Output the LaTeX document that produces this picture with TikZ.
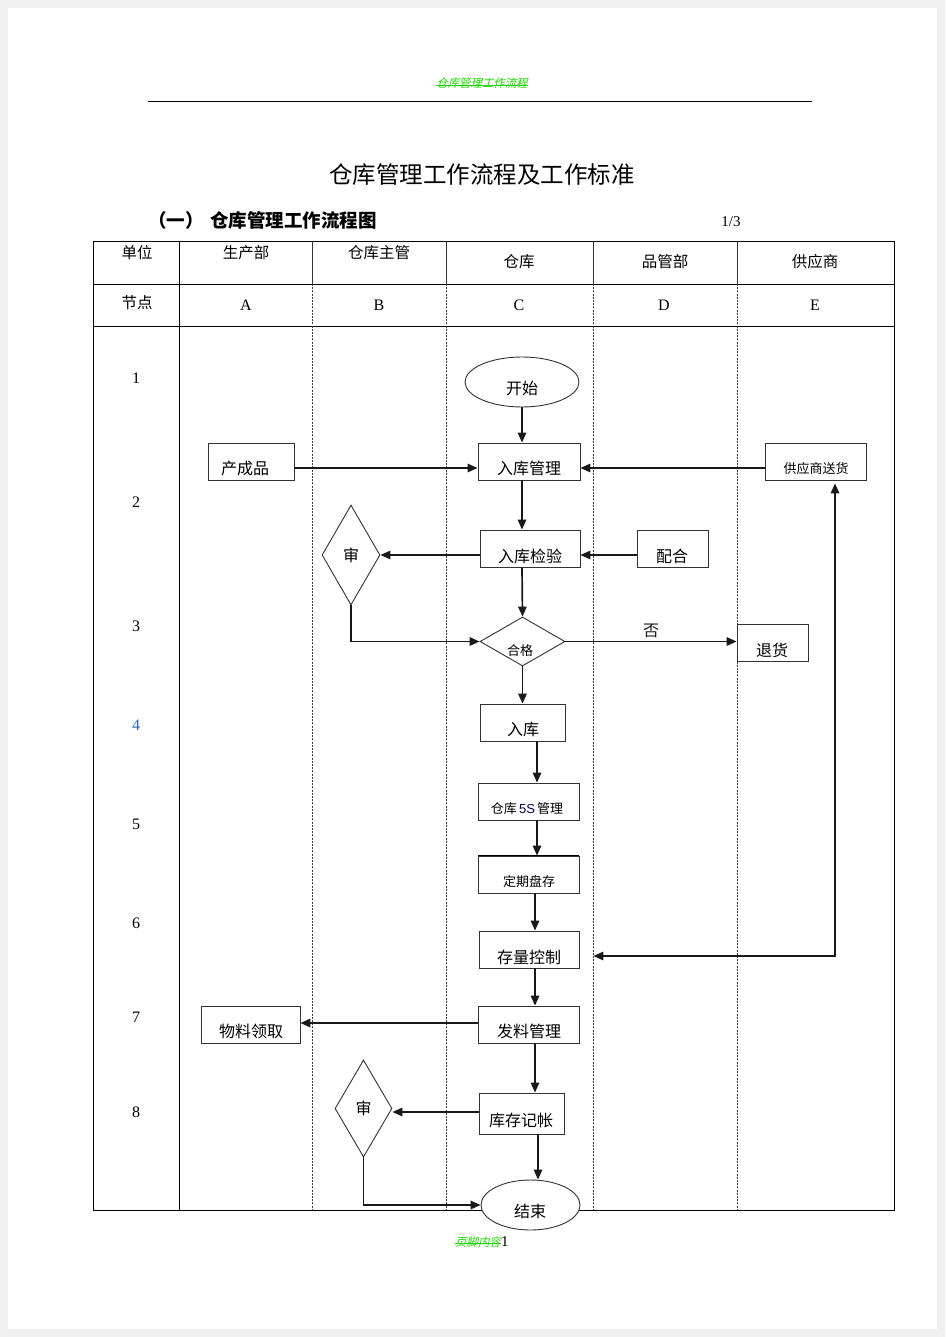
\documentclass[tikz,border=0pt]{standalone}
\usepackage{fontspec}
\setmainfont{Liberation Serif}
\newfontfamily\cjk{Noto Sans CJK SC}
\newfontfamily\cjkit[FakeSlant=0.25]{Noto Sans CJK SC}
\usetikzlibrary{arrows.meta,shapes.geometric}
\definecolor{hdrgreen}{RGB}{30,215,0}
\definecolor{numblue}{RGB}{40,100,200}
\tikzset{
  tbl/.style={draw=black, line width=0.9pt},
  lane/.style={draw=black!75, line width=0.7pt, dash pattern=on 2pt off 1.2pt},
  box/.style={draw=black!80, line width=0.9pt, fill=white, rectangle, inner sep=0pt},
  dia/.style={draw=black!80, line width=0.9pt, fill=white, diamond, inner sep=0pt, font=\cjk\fontsize{16}{18}\selectfont},
  ell/.style={draw=black!80, line width=0.9pt, fill=white, ellipse, inner sep=0pt, font=\cjk\fontsize{16}{18}\selectfont},
  lbl/.style={font=\cjk\fontsize{16}{18}\selectfont, inner sep=0pt},
  slbl/.style={font=\cjk\fontsize{13}{15}\selectfont, inner sep=0pt},
  hdr/.style={font=\cjk\fontsize{15.5}{17}\selectfont, inner sep=0pt},
  letter/.style={font=\fontsize{16}{18}\selectfont, inner sep=0pt},
  arr/.style={-{Triangle[length=10pt,width=8.5pt]}, line width=1.7pt, black!90},
  arrb/.style={{Triangle[length=10pt,width=8.5pt]}-{Triangle[length=10pt,width=8.5pt]}, line width=1.7pt, black!90},
}
\begin{document}
\begin{tikzpicture}[x=1pt,y=-1pt]
\useasboundingbox (0,0) rectangle (945,1337);
\fill[black!6] (0,0) rectangle (945,1337);
\fill[white] (8,8) rectangle (937,1329);

% page header
\node[font=\cjkit\fontsize{11.4}{13}\selectfont, text=hdrgreen, inner sep=0pt] (phdr) at (482,83) {仓库管理工作流程};
\draw[hdrgreen, line width=0.9pt] (phdr.west |- 0,85) -- (phdr.east |- 0,85);
\draw[black, line width=0.9pt] (148,101) -- (812,101);

% titles
\node[font=\cjk\fontsize{23.5}{26}\selectfont, inner sep=0pt] (title) at (482,175) {仓库管理工作流程及工作标准};
\node[font=\cjk\bfseries\fontsize{18.5}{21}\selectfont, inner sep=0pt] (subn) at (176,220) {（一）};
\node[font=\cjk\bfseries\fontsize{18.5}{21}\selectfont, inner sep=0pt, anchor=west] (sub) at (210,220) {仓库管理工作流程图};
\node[font=\fontsize{15}{17}\selectfont, inner sep=0pt] (page) at (731,222) {1/3};

% table
\draw[tbl] (93,241) rectangle (894,1210);
\draw[tbl] (93,284) -- (894,284);
\draw[tbl] (93,326) -- (894,326);
\draw[tbl] (179,241) -- (179,1210);
\foreach \x in {312,446,593,737} {
  \draw[draw=black!80, line width=0.8pt] (\x,241) -- (\x,284);
  \draw[lane] (\x,284) -- (\x,1210);
}

% column headers
\node[hdr] (h0) at (137,253) {单位};
\node[hdr] (h1) at (246,253) {生产部};
\node[hdr] (h2) at (379,253) {仓库主管};
\node[hdr] (h3) at (519,262) {仓库};
\node[hdr] (h4) at (665,262) {品管部};
\node[hdr] (h5) at (815,262) {供应商};
\node[hdr] (n0) at (137,303) {节点};
\node[letter] (nA) at (246,305) {A};
\node[letter] (nB) at (379,305) {B};
\node[letter] (nC) at (519,305) {C};
\node[letter] (nD) at (664,305) {D};
\node[letter] (nE) at (815,305) {E};

% row numbers
\node[letter] (r1) at (136,378) {1};
\node[letter] (r2) at (136,502) {2};
\node[letter] (r3) at (136,626) {3};
\node[letter, text=numblue] (r4) at (136,725) {4};
\node[letter] (r5) at (136,824) {5};
\node[letter] (r6) at (136,923) {6};
\node[letter] (r7) at (136,1017) {7};
\node[letter] (r8) at (136,1112) {8};

% shapes
\node[ell, minimum width=114, minimum height=50] (ks) at (522,382) {};
\node[lbl] (ks-t) at (522,388) {开始};
\node[box, minimum width=102, minimum height=37] (rkgl) at (529,461.5) {};
\node[lbl] (rkgl-t) at (529,468) {入库管理};
\node[box, minimum width=86, minimum height=37] (ccp) at (251,461.5) {};
\node[lbl] (ccp-t) at (245,468) {产成品};
\node[box, minimum width=101, minimum height=37] (gys) at (815.5,461.5) {};
\node[slbl] (gys-t) at (816,469) {供应商送货};
\node[box, minimum width=100, minimum height=37] (rkjy) at (530,548.5) {};
\node[lbl] (rkjy-t) at (530,556) {入库检验};
\node[box, minimum width=71, minimum height=37] (ph) at (672.5,548.5) {};
\node[lbl] (ph-t) at (672,556) {配合};
\node[dia, minimum width=58, minimum height=100] (sh1) at (351,555) {审};
\node[dia, minimum width=85, minimum height=49] (hg) at (522.5,641.5) {};
\node[slbl] (hg-t) at (520,651) {合格};
\node[box, minimum width=71, minimum height=37] (th) at (772.5,642.5) {};
\node[lbl] (th-t) at (772,650) {退货};
\node[box, minimum width=85, minimum height=37] (rk) at (522.5,722.5) {};
\node[lbl] (rk-t) at (523,729) {入库};
\node[box, minimum width=101, minimum height=37] (gl5s) at (528.5,801.5) {};
\node[slbl] (gl5s-t) at (527,809) {仓库\,{\fontspec{Liberation Sans}\color{black!70!blue}5S}\,管理};
\node[box, minimum width=101, minimum height=37] (dqpc) at (528.5,874.5) {};
\draw[black, line width=1.6pt] (dqpc.north west) -- (dqpc.north east);
\node[slbl] (dqpc-t) at (529,882) {定期盘存};
\node[box, minimum width=100, minimum height=37] (clkz) at (529,949.5) {};
\node[lbl] (clkz-t) at (529,957) {存量控制};
\node[box, minimum width=101, minimum height=37] (flgl) at (528.5,1024.5) {};
\node[lbl] (flgl-t) at (529,1031) {发料管理};
\node[box, minimum width=99, minimum height=37] (wlll) at (250.5,1024.5) {};
\node[lbl] (wlll-t) at (251,1031) {物料领取};
\node[box, minimum width=85, minimum height=41] (kcjz) at (521.5,1113.5) {};
\node[lbl] (kcjz-t) at (521,1120) {库存记帐};
\node[dia, minimum width=57, minimum height=97] (sh2) at (363.5,1108.5) {审};
\node[ell, minimum width=99, minimum height=50] (js) at (530.5,1205) {};
\node[lbl] (js-t) at (530,1211) {结束};

% helper columns / rows
\coordinate (v0) at (522,0);
\coordinate (v1) at (537,0);
\coordinate (v2) at (535,0);
\coordinate (v3) at (538,0);
\coordinate (vr) at (835,0);
\coordinate (h468) at (0,468);
\coordinate (h555) at (0,555);
\coordinate (h956) at (0,956);
\coordinate (h1023) at (0,1023);
\coordinate (h1112) at (0,1112);

% connectors
\draw[arr] (ks.south) -- (v0 |- rkgl.north);
\draw[arr] (ccp.east |- h468) -- (rkgl.west |- h468);
\draw[arr] (gys.west |- h468) -- (rkgl.east |- h468);
\draw[arr] (v0 |- rkgl.south) -- (v0 |- rkjy.north);
\draw[arr] (rkjy.west |- h555) -- (sh1.east);
\draw[arr] (ph.west |- h555) -- (rkjy.east |- h555);
\draw[arr] (v0 |- rkjy.south) -- (hg.north);
\draw[arr] (sh1.south) |- (hg.west);
\draw[arr] (hg.east) -- (th.west |- hg.east) node[midway, above=3pt, font=\cjk\fontsize{16}{18}\selectfont, inner sep=0pt] (no) {否};
\draw[arr] (hg.south) -- (rk.north);
\draw[arr] (v1 |- rk.south) -- (v1 |- gl5s.north);
\draw[arr] (v1 |- gl5s.south) -- (v1 |- dqpc.north);
\draw[arr] (v2 |- dqpc.south) -- (v2 |- clkz.north);
\draw[arr] (v2 |- clkz.south) -- (v2 |- flgl.north);
\draw[arr] (flgl.west |- h1023) -- (wlll.east |- h1023);
\draw[arr] (v2 |- flgl.south) -- (v2 |- kcjz.north);
\draw[arr] (kcjz.west |- h1112) -- (sh2.east |- h1112);
\draw[arr] (v3 |- kcjz.south) -- (v3 |- js.north);
\draw[arr] (sh2.south) |- (js.west);
\draw[arrb, shorten <=14pt, shorten >=3pt] (clkz.east |- h956) -| (vr |- gys.south);

% footer
\node[font=\cjkit\fontsize{11.4}{13}\selectfont, text=hdrgreen, inner sep=0pt] (pfoot) at (478,1242) {页脚内容};
\draw[hdrgreen, line width=0.9pt] (pfoot.west |- 0,1243) -- (pfoot.east |- 0,1243);
\node[font=\fontsize{15}{17}\selectfont, inner sep=0pt, anchor=west] (pnum) at (pfoot.east) {1};
\end{tikzpicture}
\end{document}
